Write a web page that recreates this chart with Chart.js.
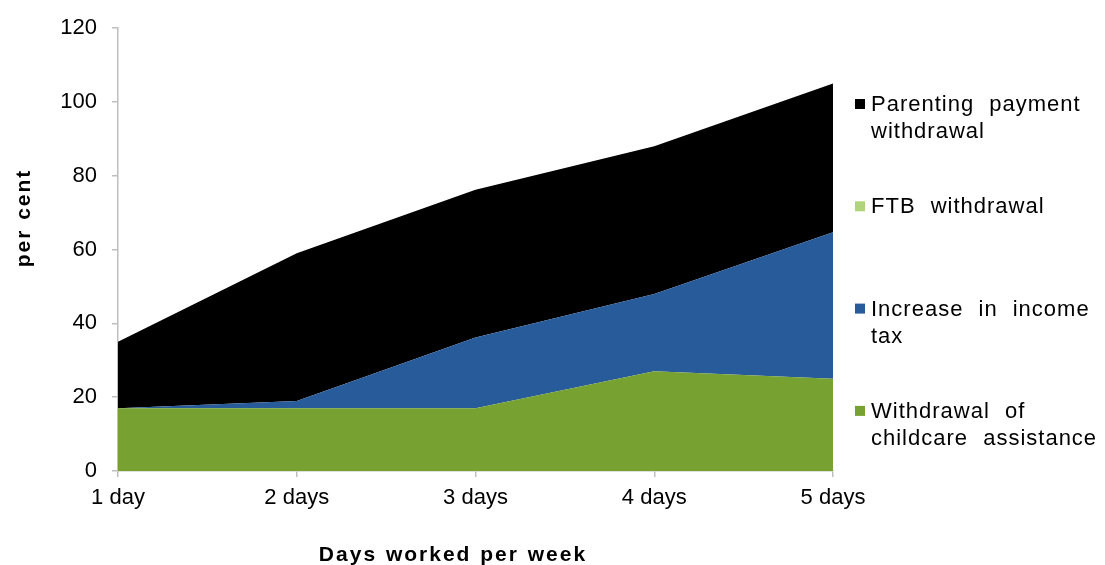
<!DOCTYPE html>
<html>
<head>
<meta charset="utf-8">
<script src="https://cdn.jsdelivr.net/npm/chart.js@4/dist/chart.umd.min.js"></script>
<style>
  html, body { margin: 0; padding: 0; background: #fff; }
  #wrap { width: 1105px; height: 565px; position: relative; }
</style>
</head>
<body>
<div id="wrap"><canvas id="grafico"></canvas></div>
<script>
// dados (pontos percentuais por dia trabalhado)
const dias = ['1 day', '2 days', '3 days', '4 days', '5 days'];
const childcare = [17, 17, 17, 27, 25];
const impostoRenda = [0, 2, 19.2, 21, 39.7];
const ftb = [0, 0, 0, 0, 0];
const parenting = [18, 40, 40, 40, 40.3];
const yTicks = [0, 20, 40, 60, 80, 100, 120];

const fonte = '"Liberation Sans", Arial, sans-serif';

// legenda e títulos dos eixos desenhados à mão (texto com espaçamento do Excel)
const extras = {
    id: 'extras',
    afterDraw(chart) {
        const ctx = chart.ctx;
        ctx.save();
        ctx.fillStyle = '#000';
        ctx.letterSpacing = '2px';
        ctx.wordSpacing = '1px';

        // título eixo x
        ctx.font = 'bold 21px ' + fonte;
        ctx.textAlign = 'center';
        ctx.textBaseline = 'alphabetic';
        ctx.fillText('Days worked per week', 453, 561);

        // título eixo y
        ctx.save();
        ctx.translate(30, 218);
        ctx.rotate(-Math.PI / 2);
        ctx.fillText('per cent', 0, 0);
        ctx.restore();

        // legenda (ordem invertida, como no original)
        ctx.letterSpacing = '1px';
        ctx.wordSpacing = '8px';
        ctx.font = '22px ' + fonte;
        ctx.textAlign = 'left';
        ctx.textBaseline = 'middle';
        const ds = chart.data.datasets.slice().reverse();
        ds.forEach((d, i) => {
            const y = 104 + i * 102.3;
            ctx.fillStyle = d.backgroundColor;
            ctx.fillRect(855, y - 5, 10, 10);
            ctx.fillStyle = '#000';
            const linhas = Array.isArray(d.label) ? d.label : [d.label];
            linhas.forEach((t, j) => ctx.fillText(t, 871, y + 1 + j * 27));
        });
        ctx.restore();
    }
};

const ctx = document.getElementById('grafico').getContext('2d');
const grafico = new Chart(ctx, {
    type: 'line',
    data: {
        labels: dias,
        datasets: [
            { label: ['Withdrawal of', 'childcare assistance'], data: childcare, backgroundColor: '#77A232', fill: 'origin' },
            { label: ['Increase in income', 'tax'], data: impostoRenda, backgroundColor: '#285B9A', fill: '-1' },
            { label: ['FTB withdrawal'], data: ftb, backgroundColor: '#B0D47A', fill: '-1' },
            { label: ['Parenting payment', 'withdrawal'], data: parenting, backgroundColor: '#000000', fill: '-1' }
        ].map(d => Object.assign(d, { borderWidth: 0, pointRadius: 0, tension: 0 }))
    },
    options: {
        responsive: true,
        maintainAspectRatio: false,
        animation: false,
        layout: { padding: { top: 27, right: 272, left: 0, bottom: 0 } },
        plugins: {
            legend: { display: false },
            tooltip: { enabled: false }
        },
        scales: {
            x: {
                offset: false,
                afterFit: s => { s.height = 94; },
                border: { color: '#BFBFBF', width: 1.5 },
                grid: { drawOnChartArea: false, tickLength: 6, color: '#BFBFBF', lineWidth: 1.5 },
                ticks: { color: '#000', font: { family: fonte, size: 22 }, padding: 8, maxRotation: 0 }
            },
            y: {
                stacked: true,
                min: 0,
                max: 120,
                afterFit: s => { s.width = 118; },
                afterBuildTicks: s => { s.ticks = yTicks.map(v => ({ value: v })); },
                border: { color: '#BFBFBF', width: 1.5 },
                grid: { drawOnChartArea: false, tickLength: 6, color: '#BFBFBF', lineWidth: 1.5 },
                ticks: { color: '#000', font: { family: fonte, size: 22 }, padding: 15 }
            }
        }
    },
    plugins: [extras]
});
</script>
</body>
</html>
